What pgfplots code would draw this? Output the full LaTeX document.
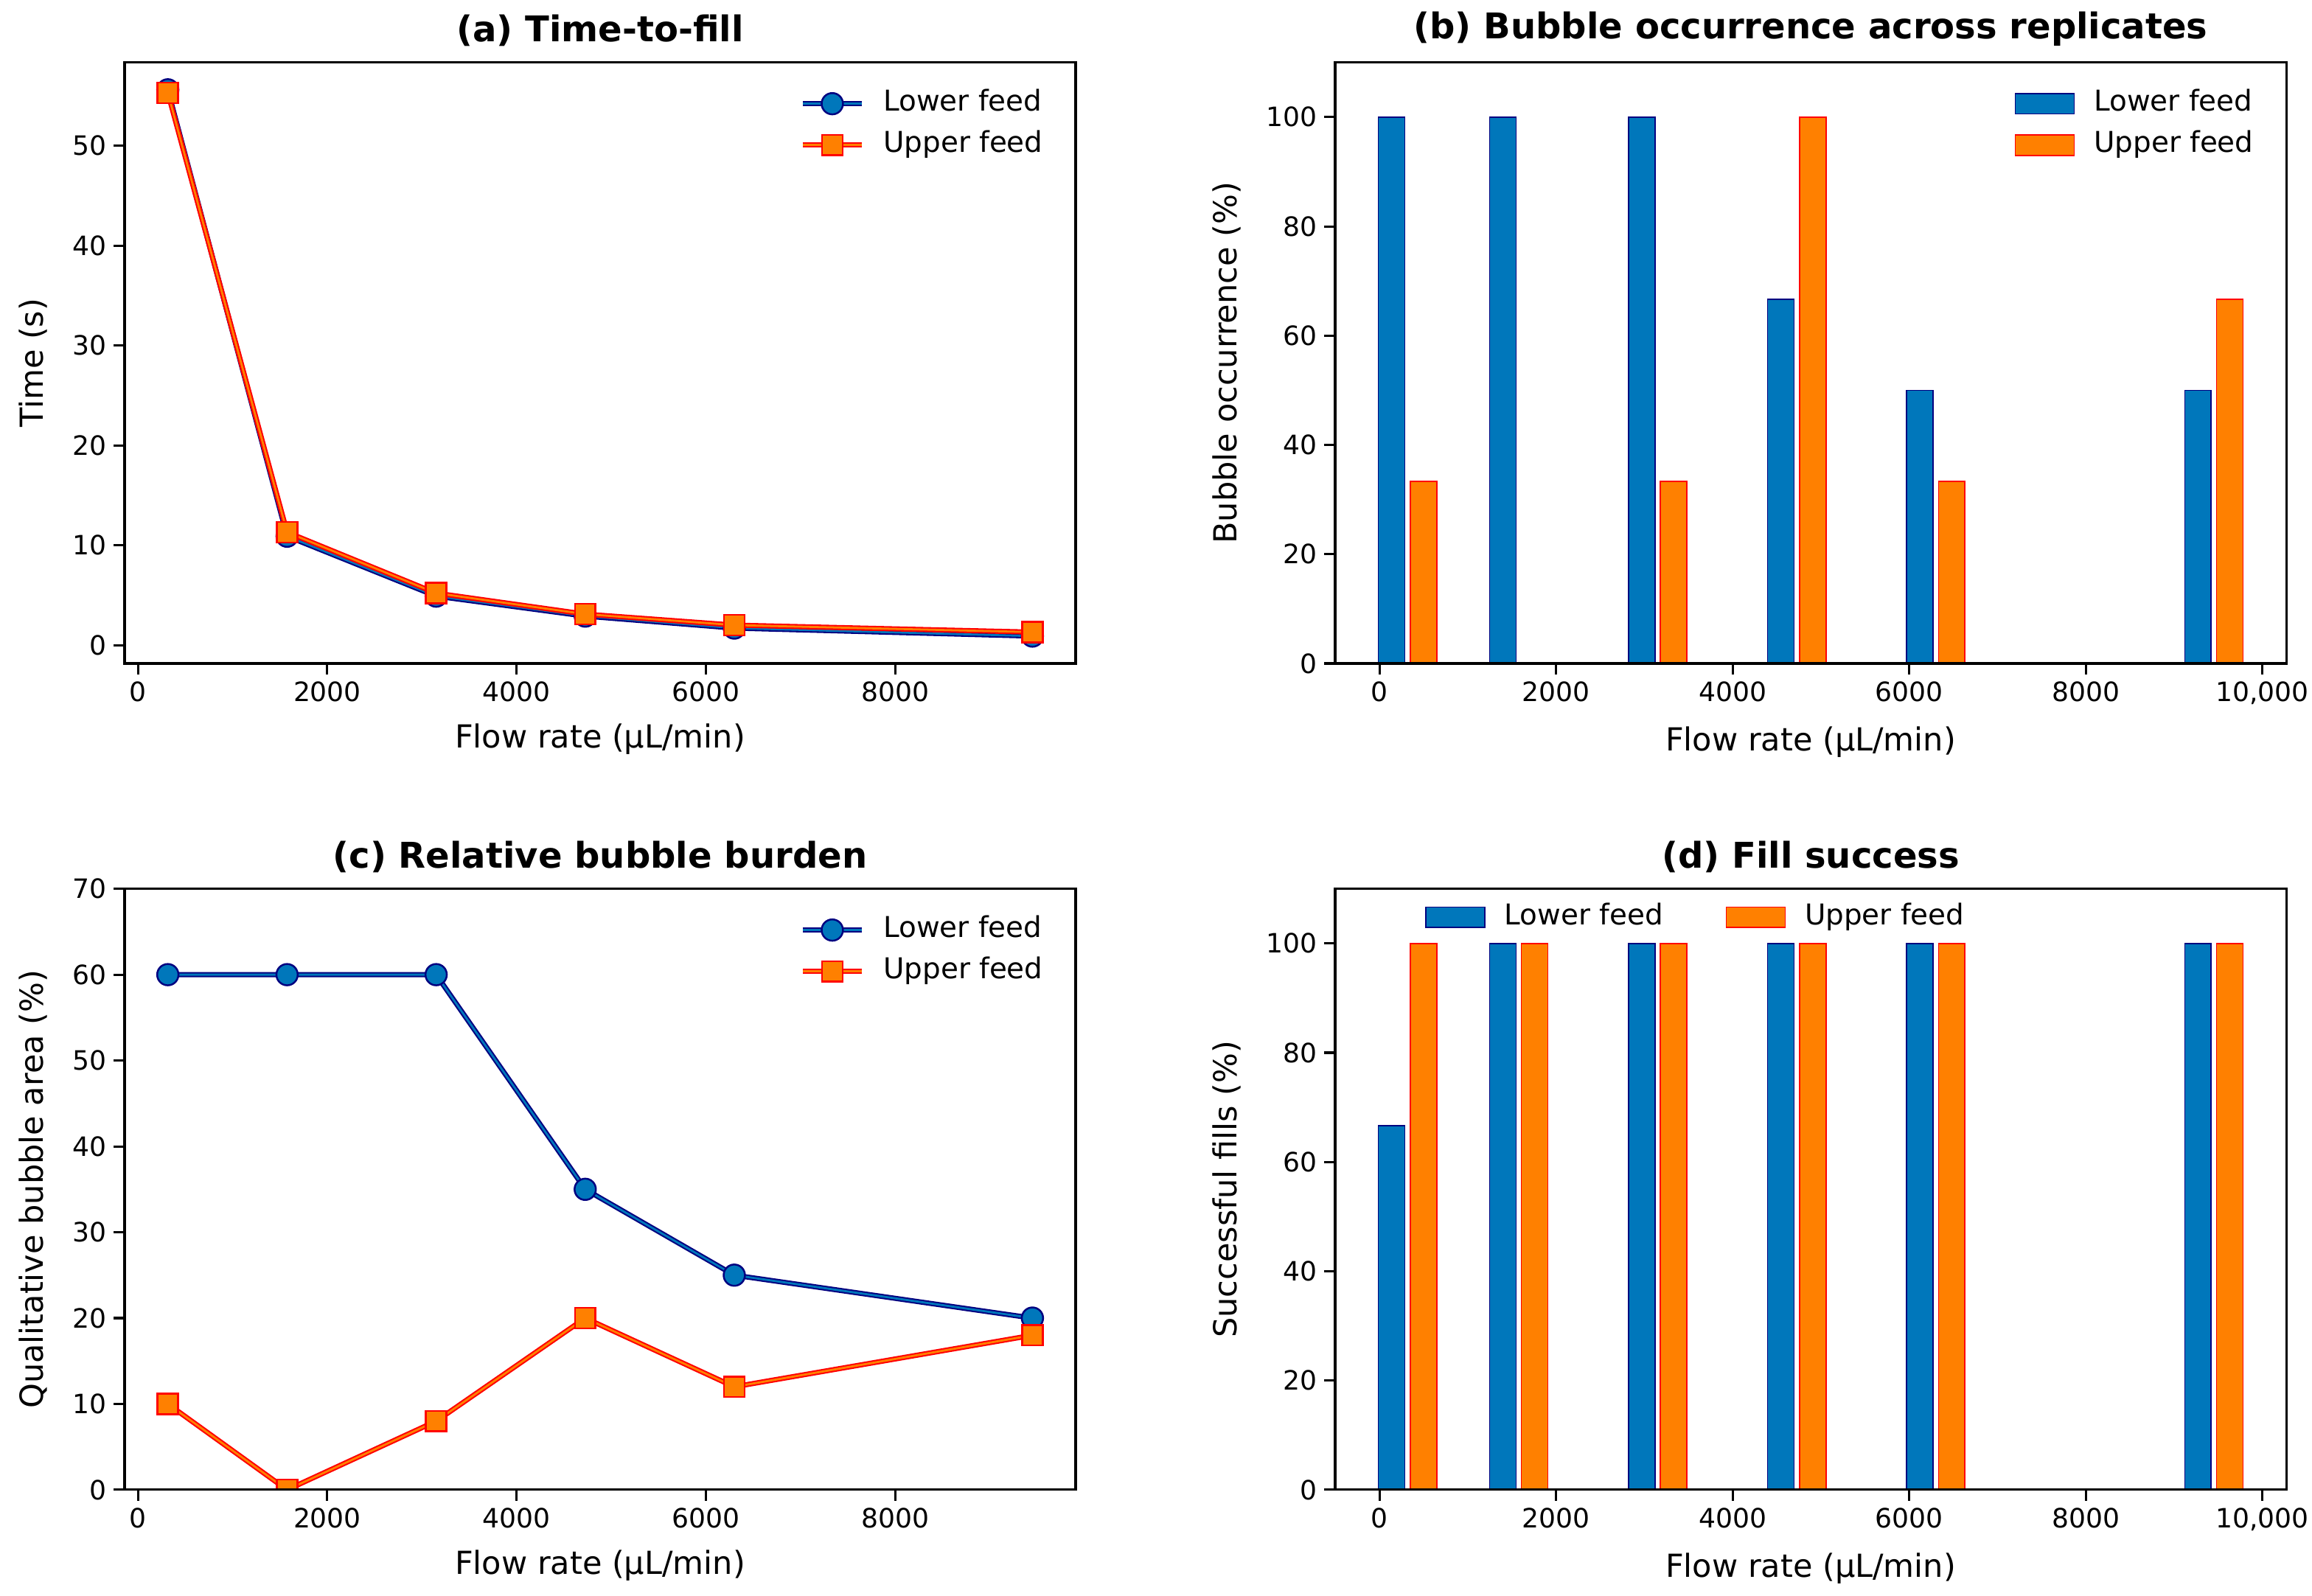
\documentclass[border=0pt]{standalone}
\usepackage{pgfplots}
\pgfplotsset{compat=1.18}
\usepackage{fontspec}
\setmainfont{DejaVu Sans}
\definecolor{cblue}{HTML}{0077BB}
\definecolor{corange}{HTML}{FF8000}
\definecolor{cnavy}{HTML}{000080}
\definecolor{cred}{HTML}{FF0000}
\pgfplotsset{
  base/.style={
    scale only axis, width=464.4pt, height=293.5pt,
    anchor=south west,
    axis line style={line width=1.1pt, black},
    major tick style={line width=1.1pt, black},
    major tick length=5.3pt,
    tick align=outside,
    tick pos=left,
    minor tick num=0,
    scaled ticks=false,
    /pgf/number format/assume math mode=true,
    /pgf/number format/1000 sep={},
    tick label style={font=\fontsize{13}{15}\selectfont},
    label style={font=\fontsize{15.5}{18}\selectfont},
    xlabel style={yshift=-4pt},
    ylabel style={yshift=5.5pt},
    title style={font=\bfseries\fontsize{17.3}{20}\selectfont, yshift=-1.5pt},
    clip marker paths=true,
    axis on top,
    legend cell align=left,
    legend style={draw=none, fill=none, inner sep=0pt, outer sep=0pt,
      row sep=1.3pt, font=\fontsize{14}{16}\selectfont,
      nodes={inner sep=2.5pt, text height=10.6pt, text depth=3.3pt},
      /tikz/every odd column/.append style={column sep=6.8pt}},
  },
  legNE/.style={legend style={at={(1,1)}, anchor=north east, xshift=-13.5pt, yshift=-10.7pt}},
  lowerleg/.style={legend image code/.code={
      \draw[cnavy, line width=2.5pt] (0pt,0pt) -- (28.8pt,0pt);
      \draw[cblue, line width=1pt] (0pt,0pt) -- (28.8pt,0pt);
      \draw[cnavy, fill=cblue, line width=0.9pt] (14.4pt,0pt) circle (5.2pt);}},
  upperleg/.style={legend image code/.code={
      \draw[cred, line width=2.5pt] (0pt,0pt) -- (28.8pt,0pt);
      \draw[corange, line width=1pt] (0pt,0pt) -- (28.8pt,0pt);
      \draw[cred, fill=corange, line width=0.9pt] (9.4pt,-5pt) rectangle (19.4pt,5pt);}},
  barlowleg/.style={legend image code/.code={
      \draw[cnavy, fill=cblue, line width=0.6pt] (0pt,-5pt) rectangle (28.8pt,5pt);}},
  barupleg/.style={legend image code/.code={
      \draw[cred, fill=corange, line width=0.6pt] (0pt,-5pt) rectangle (28.8pt,5pt);}},
  lowerouter/.style={forget plot, cnavy, line width=2.5pt, no markers},
  lowerinner/.style={cblue, line width=1pt, mark=*, mark size=5.2pt,
      mark options={solid, fill=cblue, draw=cnavy, line width=0.9pt}, lowerleg},
  upperouter/.style={forget plot, cred, line width=2.5pt, no markers},
  upperinner/.style={corange, line width=1pt, mark=square*, mark size=5pt,
      mark options={solid, fill=corange, draw=cred, line width=0.9pt}, upperleg},
  lowbar/.style={fill=cblue, draw=cnavy, line width=0.6pt, bar width=300, bar shift=-180, barlowleg},
  upbar/.style={fill=corange, draw=cred, line width=0.6pt, bar width=300, bar shift=180, barupleg},
}
\begin{document}
\begin{tikzpicture}
\path[use as bounding box] (0pt,0pt) rectangle (1128.96pt,779.04pt);

% (a)
\begin{axis}[base, legNE, at={(60.84pt,455.04pt)},
  title={(a) Time-to-fill},
  xlabel={Flow rate (µL/min)}, ylabel={Time (s)},
  xmin=-141.75, xmax=9906.75, ymin=-1.84, ymax=58.34,
  xtick={0,2000,4000,6000,8000}, ytick={0,10,20,30,40,50}]
\addplot[lowerouter] coordinates {(315,55.6) (1575,10.9) (3150,4.9) (4725,2.9) (6300,1.7) (9450,0.9)};
\addplot[lowerinner] coordinates {(315,55.6) (1575,10.9) (3150,4.9) (4725,2.9) (6300,1.7) (9450,0.9)};
\addplot[upperouter] coordinates {(315,55.3) (1575,11.3) (3150,5.2) (4725,3.1) (6300,2.0) (9450,1.3)};
\addplot[upperinner] coordinates {(315,55.3) (1575,11.3) (3150,5.2) (4725,3.1) (6300,2.0) (9450,1.3)};
\legend{Lower feed, Upper feed}
\end{axis}

% (b)
\begin{axis}[base, legNE, ybar, at={(651.96pt,455.04pt)},
  title={(b) Bubble occurrence across replicates},
  xlabel={Flow rate (µL/min)}, ylabel={Bubble occurrence (\%)},
  xmin=-504.75, xmax=10269.75, ymin=0, ymax=110,
  xtick={0,2000,4000,6000,8000,10000},
  xticklabels={0,2000,4000,6000,8000,{10,000}},
  ytick={0,20,40,60,80,100}]
\addplot[lowbar] coordinates {(315,100) (1575,100) (3150,100) (4725,66.67) (6300,50) (9450,50)};
\addplot[upbar] coordinates {(315,33.33) (1575,0) (3150,33.33) (4725,100) (6300,33.33) (9450,66.67)};
\legend{Lower feed, Upper feed}
\end{axis}

% (c)
\begin{axis}[base, legNE, at={(60.84pt,51.5pt)},
  title={(c) Relative bubble burden},
  xlabel={Flow rate (µL/min)}, ylabel={Qualitative bubble area (\%)},
  xmin=-141.75, xmax=9906.75, ymin=0, ymax=70,
  xtick={0,2000,4000,6000,8000}, ytick={0,10,20,30,40,50,60,70}]
\addplot[lowerouter] coordinates {(315,60) (1575,60) (3150,60) (4725,35) (6300,25) (9450,20)};
\addplot[lowerinner] coordinates {(315,60) (1575,60) (3150,60) (4725,35) (6300,25) (9450,20)};
\addplot[upperouter] coordinates {(315,10) (1575,0) (3150,8) (4725,20) (6300,12) (9450,18)};
\addplot[upperinner] coordinates {(315,10) (1575,0) (3150,8) (4725,20) (6300,12) (9450,18)};
\legend{Lower feed, Upper feed}
\end{axis}

% (d)
\begin{axis}[base, ybar, at={(651.96pt,51.5pt)},
  legend columns=2,
  legend style={at={(0,1)}, anchor=north west, xshift=44pt, yshift=-4.5pt,
    /tikz/every even column/.append style={column sep=28pt}},
  title={(d) Fill success},
  xlabel={Flow rate (µL/min)}, ylabel={Successful fills (\%)},
  xmin=-504.75, xmax=10269.75, ymin=0, ymax=110,
  xtick={0,2000,4000,6000,8000,10000},
  xticklabels={0,2000,4000,6000,8000,{10,000}},
  ytick={0,20,40,60,80,100}]
\addplot[lowbar] coordinates {(315,66.67) (1575,100) (3150,100) (4725,100) (6300,100) (9450,100)};
\addplot[upbar] coordinates {(315,100) (1575,100) (3150,100) (4725,100) (6300,100) (9450,100)};
\legend{Lower feed, Upper feed}
\end{axis}
\end{tikzpicture}
\end{document}
